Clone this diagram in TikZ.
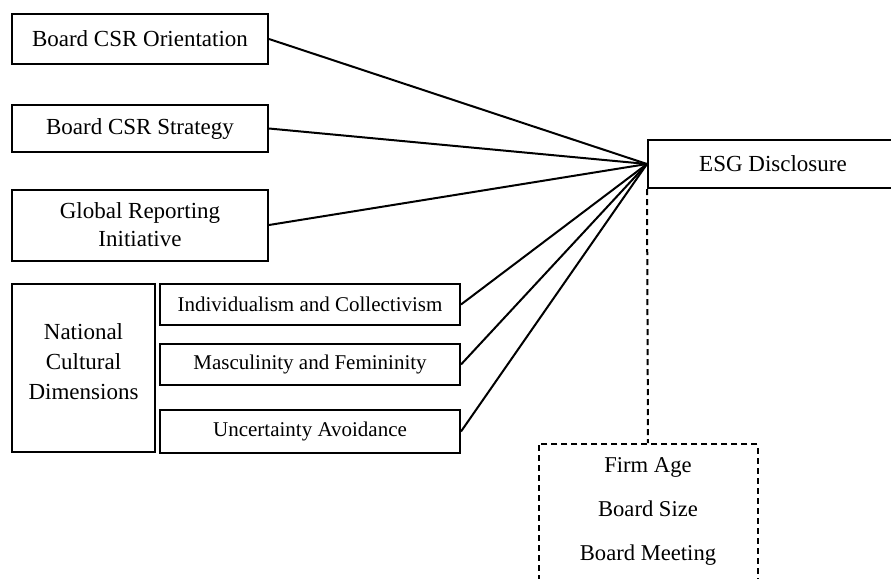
\documentclass[tikz,border=0pt]{standalone}
\usepackage{fontspec}
\setmainfont{Liberation Serif}
\usetikzlibrary{positioning}
\tikzset{
    varbox/.style = {rectangle, line width=1pt, draw=black, align=center, inner sep=2pt,
                     font=\fontsize{11.5}{14}\selectfont},
    subbox/.style = {varbox, minimum width=150pt, font=\fontsize{10.5}{13}\selectfont},
    ctrlbox/.style = {rectangle, line width=1pt, draw=black, dash pattern=on 3pt off 2pt,
                      align=center, font=\fontsize{11.3}{22}\selectfont},
    link/.style = {line width=1pt, black},
    ctrllink/.style = {line width=1pt, black, dash pattern=on 3pt off 2pt}
}

\begin{document}
\begin{tikzpicture}[x=0.5pt, y=-0.5pt]
\path[use as bounding box, clip] (0,0) rectangle (891,579);
% independent variables
\node[varbox, minimum width=128pt, minimum height=25pt] at (140, 39) (orient) {Board CSR Orientation};
\node[varbox, minimum width=128pt, minimum height=23.5pt] at (140, 128.5) (strat) {Board CSR Strategy};
\node[varbox, minimum width=128pt, minimum height=35.5pt] at (140, 225) (gri) {Global Reporting\\Initiative};
\node[varbox, minimum width=71.5pt, minimum height=84pt, font=\fontsize{11.5}{15}\selectfont, text depth=6pt] at (83.5, 368) (ncd) {National\\Cultural\\Dimensions};
\node[subbox, minimum height=20.5pt] at (310, 304.5) (indiv) {Individualism and Collectivism};
\node[subbox, minimum height=20.5pt] at (310, 364.5) (masc) {Masculinity and Femininity};
\node[subbox, minimum height=21.5pt] at (310, 431.5) (unc) {Uncertainty Avoidance};
% dependent variable and controls
\node[varbox, minimum width=125pt, minimum height=24pt] at (773, 164) (esg) {ESG Disclosure};
\node[ctrlbox, minimum width=109.5pt, anchor=north, inner ysep=7pt, text depth=30pt] at (648, 443) (ctrl) {Firm Age\\Board Size\\Board Meeting};
%
\draw[link] (orient.east) -- (esg.west);
\draw[link] (strat.east) -- (esg.west);
\draw[link] (gri.east) -- (esg.west);
\draw[link] (indiv.east) -- (esg.west);
\draw[link] (masc.east) -- (esg.west);
\draw[link] (unc.east) -- (esg.west);
\draw[ctrllink] (esg.south west) -- (ctrl.north);
\end{tikzpicture}
\end{document}
